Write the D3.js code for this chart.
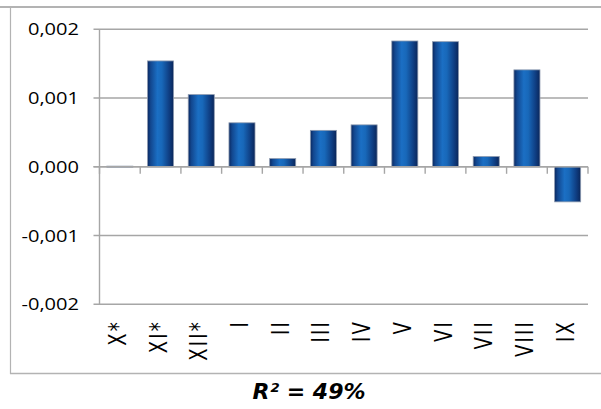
<!DOCTYPE html>
<html>
<head>
<meta charset="utf-8">
<script src="https://cdn.jsdelivr.net/npm/d3@7"></script>
<style>
  html, body { margin: 0; padding: 0; background: #fff; }
  svg { display: block; }
</style>
</head>
<body>
<svg id="chart" width="601" height="409"></svg>
<script>
// Monthly values, October (previous year) through September
const categories = ["X*", "XI*", "XII*", "I", "II", "III", "IV", "V", "VI", "VII", "VIII", "IX"];
const values = [0.00001, 0.00154, 0.00105, 0.00064, 0.00012, 0.00053, 0.00061, 0.00183, 0.00182, 0.00015, 0.00141, -0.00051];
const yTicks = [-0.002, -0.001, 0, 0.001, 0.002];
const title = "R² = 49%";

const svg = d3.select("#chart");
const W = 601, H = 409;
const plot = { left: 99.5, right: 588, top: 29.3, bottom: 304.3 };

// Chart frame
const frame = svg.append("g").attr("stroke", "#b3b3b3").attr("fill", "none");
frame.append("line").attr("x1", 0).attr("x2", W).attr("y1", 7).attr("y2", 7).attr("stroke-width", 2);
frame.append("line").attr("x1", 10.5).attr("x2", 10.5).attr("y1", 7).attr("y2", 374).attr("stroke-width", 1.2);
frame.append("line").attr("x1", 10).attr("x2", W).attr("y1", 373.5).attr("y2", 373.5).attr("stroke-width", 1.5);

const x = d3.scaleBand().domain(categories).range([plot.left, plot.right]).paddingInner(0.36).paddingOuter(0.18);
const y = d3.scaleLinear().domain([-0.002, 0.002]).range([plot.bottom, plot.top]);

const fmt = v => d3.format(".3f")(v).replace(".", ",").replace("−", "-");

// Gridlines
svg.append("g").selectAll("line").data(yTicks).join("line")
  .attr("x1", plot.left - 6).attr("x2", plot.right)
  .attr("y1", d => y(d)).attr("y2", d => y(d))
  .attr("stroke", "#a6a6a6").attr("stroke-width", 1.4);

// Vertical axis line
svg.append("line")
  .attr("x1", plot.left).attr("x2", plot.left)
  .attr("y1", y(0.002)).attr("y2", y(-0.002))
  .attr("stroke", "#a6a6a6").attr("stroke-width", 1.4);

// Y tick labels
svg.append("g").selectAll("text").data(yTicks).join("text")
  .attr("transform", d => `translate(79,${y(d) + 6}) scale(1.18,1)`)
  .attr("text-anchor", "end")
  .attr("font-family", "'Open Sans', sans-serif")
  .attr("font-size", 17)
  .attr("fill", "#000")
  .text(fmt);

// Bar gradient
const defs = svg.append("defs");
const grad = defs.append("linearGradient").attr("id", "barGrad").attr("x1", "0%").attr("x2", "100%");
[["0%", "#0a2860"], ["12%", "#12478f"], ["38%", "#1b6fc4"], ["55%", "#1868b9"], ["82%", "#0f3f84"], ["100%", "#0a265a"]]
  .forEach(([o, c]) => grad.append("stop").attr("offset", o).attr("stop-color", c));

// Bars
svg.append("g").selectAll("rect").data(values).join("rect")
  .attr("x", (d, i) => x(categories[i]))
  .attr("width", x.bandwidth())
  .attr("y", d => y(Math.max(0, d)))
  .attr("height", d => Math.max(1, Math.abs(y(d) - y(0))))
  .attr("fill", "url(#barGrad)")
  .attr("stroke", "#8e9bb0").attr("stroke-width", 0.8);

// Category axis at zero with ticks between categories
svg.append("line")
  .attr("x1", plot.left - 6).attr("x2", plot.right)
  .attr("y1", y(0)).attr("y2", y(0))
  .attr("stroke", "#a6a6a6").attr("stroke-width", 1.4);
const step = x.step();
svg.append("g").selectAll("line").data(d3.range(categories.length + 1)).join("line")
  .attr("x1", i => plot.left + i * step).attr("x2", i => plot.left + i * step)
  .attr("y1", y(0)).attr("y2", y(0) + 7)
  .attr("stroke", "#a6a6a6").attr("stroke-width", 1.4);

// Category labels, rotated
svg.append("g").selectAll("text").data(categories).join("text")
  .attr("transform", d => `translate(${x(d) + x.bandwidth() / 2 + 6},320) scale(1.35,1) rotate(-90)`)
  .attr("text-anchor", "end")
  .attr("font-family", "'DejaVu Sans', sans-serif")
  .attr("font-size", 18)
  .attr("letter-spacing", 2.2)
  .attr("fill", "#000")
  .text(d => d);

// Title below the chart
svg.append("text")
  .attr("x", 309).attr("y", 399)
  .attr("text-anchor", "middle")
  .attr("font-family", "'DejaVu Sans', sans-serif")
  .attr("font-weight", "bold").attr("font-style", "italic")
  .attr("font-size", 22)
  .attr("fill", "#000")
  .text(title);
</script>
</body>
</html>
